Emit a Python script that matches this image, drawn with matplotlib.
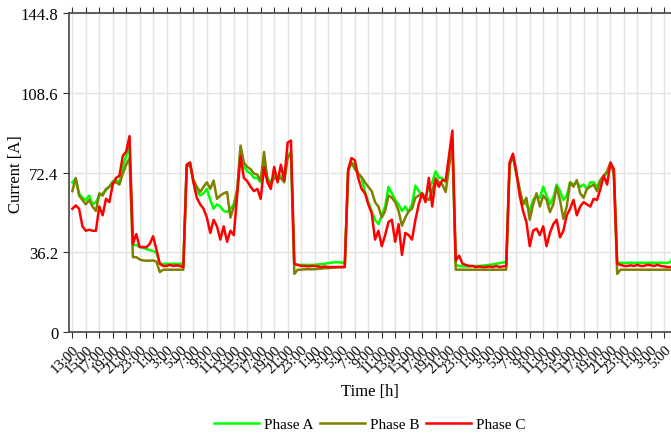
import numpy as np
import matplotlib
matplotlib.use("Agg")
import matplotlib.pyplot as plt

matplotlib.rcParams['font.family'] = ['Liberation Serif', 'DejaVu Serif']

# half-hourly samples, starting 13:00 on day 1
phase_a = [
    68, 69.5, 63, 61, 60, 62, 58, 59, 62, 63, 64.5, 66, 68.5, 69, 68, 75, 80, 84,
    39.5, 39.5, 38.7, 38.2, 37.7, 37.2, 36.8, 36,
    31, 31, 31, 31, 31, 31, 31, 31,
    76, 77, 68, 64, 62, 63, 65, 60, 56, 58, 57, 55, 54.5, 56, 58, 65,
    82, 75, 73, 72, 70, 70, 68, 78, 70, 68, 71, 70, 71, 70, 80, 82,
    30.5, 30.5, 30.5, 30.5, 30.5, 30.5, 30.5, 30.7, 30.8, 31, 31.3, 31.5, 31.7, 31.7, 31.5, 31.4,
    73, 77, 76, 72, 70, 64, 59, 55, 51, 49, 53, 57, 66, 63, 60, 58,
    55, 57, 54.5, 58, 66.5, 64, 62, 61, 66, 68, 73, 70, 70, 68, 77, 87,
    30.5, 30, 29.8, 29.8, 29.8, 30, 30, 30, 30.2, 30.3, 30.5, 30.7, 31, 31.3, 31.6, 31.8,
    76, 80, 72, 64, 59, 58, 55, 60, 62, 61, 66, 62, 58, 61, 67, 64,
    60, 62, 68, 67, 68, 66, 67, 65, 68, 68, 66, 69, 71, 72, 76, 73,
    31.5, 31.4, 31.4, 31.4, 31.5, 31.4, 31.4, 31.5, 31.4, 31.4, 31.5, 31.4, 31.4, 31.5, 31.4, 31.4, 32, 36,
]
phase_b = [
    64, 70, 62, 60, 58, 60, 57, 55, 63, 62, 65, 66, 68, 68, 67, 72, 76, 79,
    34, 34, 33, 32.5, 32.4, 32.4, 32.5, 32,
    27.2, 28.3, 28.3, 28.3, 28.3, 28.3, 28.3, 28.3,
    75, 76, 69, 66, 63.6, 66, 68, 65, 68.8, 60.5, 62, 63, 63.6, 52, 57, 64,
    84.7, 77, 75, 74, 72, 71.5, 68.8, 81.8, 69, 67.3, 70, 69.5, 70, 68, 79, 81,
    26.4, 28.3, 28.3, 28.5, 28.5, 28.5, 28.5, 28.7, 28.8, 29, 29, 29.2, 29.3, 29.5, 29.5, 29.5,
    73, 77, 74, 72, 70.4, 68, 66, 64, 59, 57, 52, 55, 62, 61, 59, 55,
    48.3, 52, 55, 56, 61, 62, 63, 61, 60, 64, 70, 68, 67, 63.6, 75, 85,
    28.3, 28.3, 28.3, 28.3, 28.3, 28.3, 28.3, 28.3, 28.3, 28.3, 28.3, 28.3, 28.3, 28.3, 28.3, 28.3,
    76, 80, 72, 65, 58, 61, 51, 58, 63, 57, 62, 60, 54.5, 58, 66, 60,
    51.4, 57, 68, 66, 69, 63, 61, 65, 66, 67, 64, 69, 71, 73, 77, 72,
    26.4, 28.3, 28.3, 28.3, 28.3, 28.3, 28.3, 28.3, 28.3, 28.3, 28.3, 28.3, 28.3, 28.3, 28.3, 28.3, 28.3, 28.3,
]
phase_c = [
    56, 57.5, 56, 48, 46, 46.5, 46, 46, 57, 53, 60.5, 59, 67, 70, 71, 80, 82, 89,
    40, 44.5, 38.6, 38.6, 38.5, 40, 43.5, 37.5,
    31, 30, 30, 30.5, 30, 30.3, 30, 29.5,
    76, 77, 68, 61, 58, 56, 52, 45, 51, 48, 42, 48, 41, 46, 44, 62,
    80, 70, 68.5, 66, 64, 65, 60.5, 75, 68, 65, 75, 68, 76, 69, 86, 87,
    31, 30.5, 30, 30, 29.8, 30, 30, 29.8, 29.5, 29.8, 29.5, 29.5, 29.5, 29.5, 29.5, 29.5,
    74, 79, 78, 70, 65, 63, 58, 54, 42, 46, 39, 44, 50, 51, 41, 49,
    35, 45, 44, 42, 51, 58, 63, 59, 70, 57, 69, 66, 69, 68.8, 80, 91.5,
    32.4, 34.7, 31, 30.5, 30, 30, 29.5, 29.8, 29.5, 29.5, 29.8, 29.5, 30, 29.5, 29.8, 30,
    77, 81, 73, 62, 55, 50, 39, 46, 47, 44, 48, 39, 45, 49, 51, 43,
    46, 53, 56, 60, 53, 57, 59, 58, 57, 60.5, 60, 65, 71, 67, 77, 74,
    31, 30.5, 30, 30, 30.3, 30, 30.5, 30, 30, 30.5, 30.3, 30, 30.5, 30, 29.8, 29.5, 29.5, 30,
]
sample_step_h = 0.5
start_hour = 13
y_ticks = [0, 36.2, 72.4, 108.6, 144.8]
y_tick_labels = ["0", "36.2", "72.4", "108.6", "144.8"]

hours = np.arange(len(phase_a)) * sample_step_h
tick_pos = np.arange(0, 90, 2)
tick_labels = [f"{(start_hour + int(h)) % 24}:00" for h in tick_pos]

fig = plt.figure(figsize=(6.71, 4.35), dpi=100)
ax = fig.add_axes([69 / 671, 102 / 435, 602 / 671, 318.7 / 435])

ax.plot(hours, phase_a, color="#00ff00", lw=1.8, label="Phase A")
ax.plot(hours, phase_b, color="#808000", lw=1.8, label="Phase B")
ax.plot(hours, phase_c, color="#ff0000", lw=1.8, label="Phase C")

ax.set_xlim(-0.5, 89.0)
ax.set_ylim(0, 144.8)
ax.set_xticks(tick_pos)
ax.set_xticklabels(tick_labels, rotation=45, ha="right", rotation_mode="anchor", fontsize=10.5)
ax.set_yticks(y_ticks)
ax.set_yticklabels(y_tick_labels, fontsize=12)
ax.tick_params(axis="x", top=True, direction="out", length=4, color="#333333")
ax.tick_params(axis="y", direction="out", length=4, color="#333333")

ax.grid(True, color="#e3e3e3", lw=1)
ax.set_axisbelow(True)
ax.spines["right"].set_visible(False)
for s in ["left", "bottom", "top"]:
    ax.spines[s].set_color("#444444")
    ax.spines[s].set_linewidth(1.2)

ax.set_xlabel("Time [h]", fontsize=12, labelpad=6)
ax.set_ylabel("Current [A]", fontsize=12)
ax.yaxis.set_label_coords(-0.074, 0.5)

fig.legend(loc="center", bbox_to_anchor=(370 / 671, 10 / 435), ncol=3, frameon=False,
           fontsize=11, handlelength=2.9, handletextpad=0.35, columnspacing=0.45)

plt.savefig("out.png", dpi=100)
